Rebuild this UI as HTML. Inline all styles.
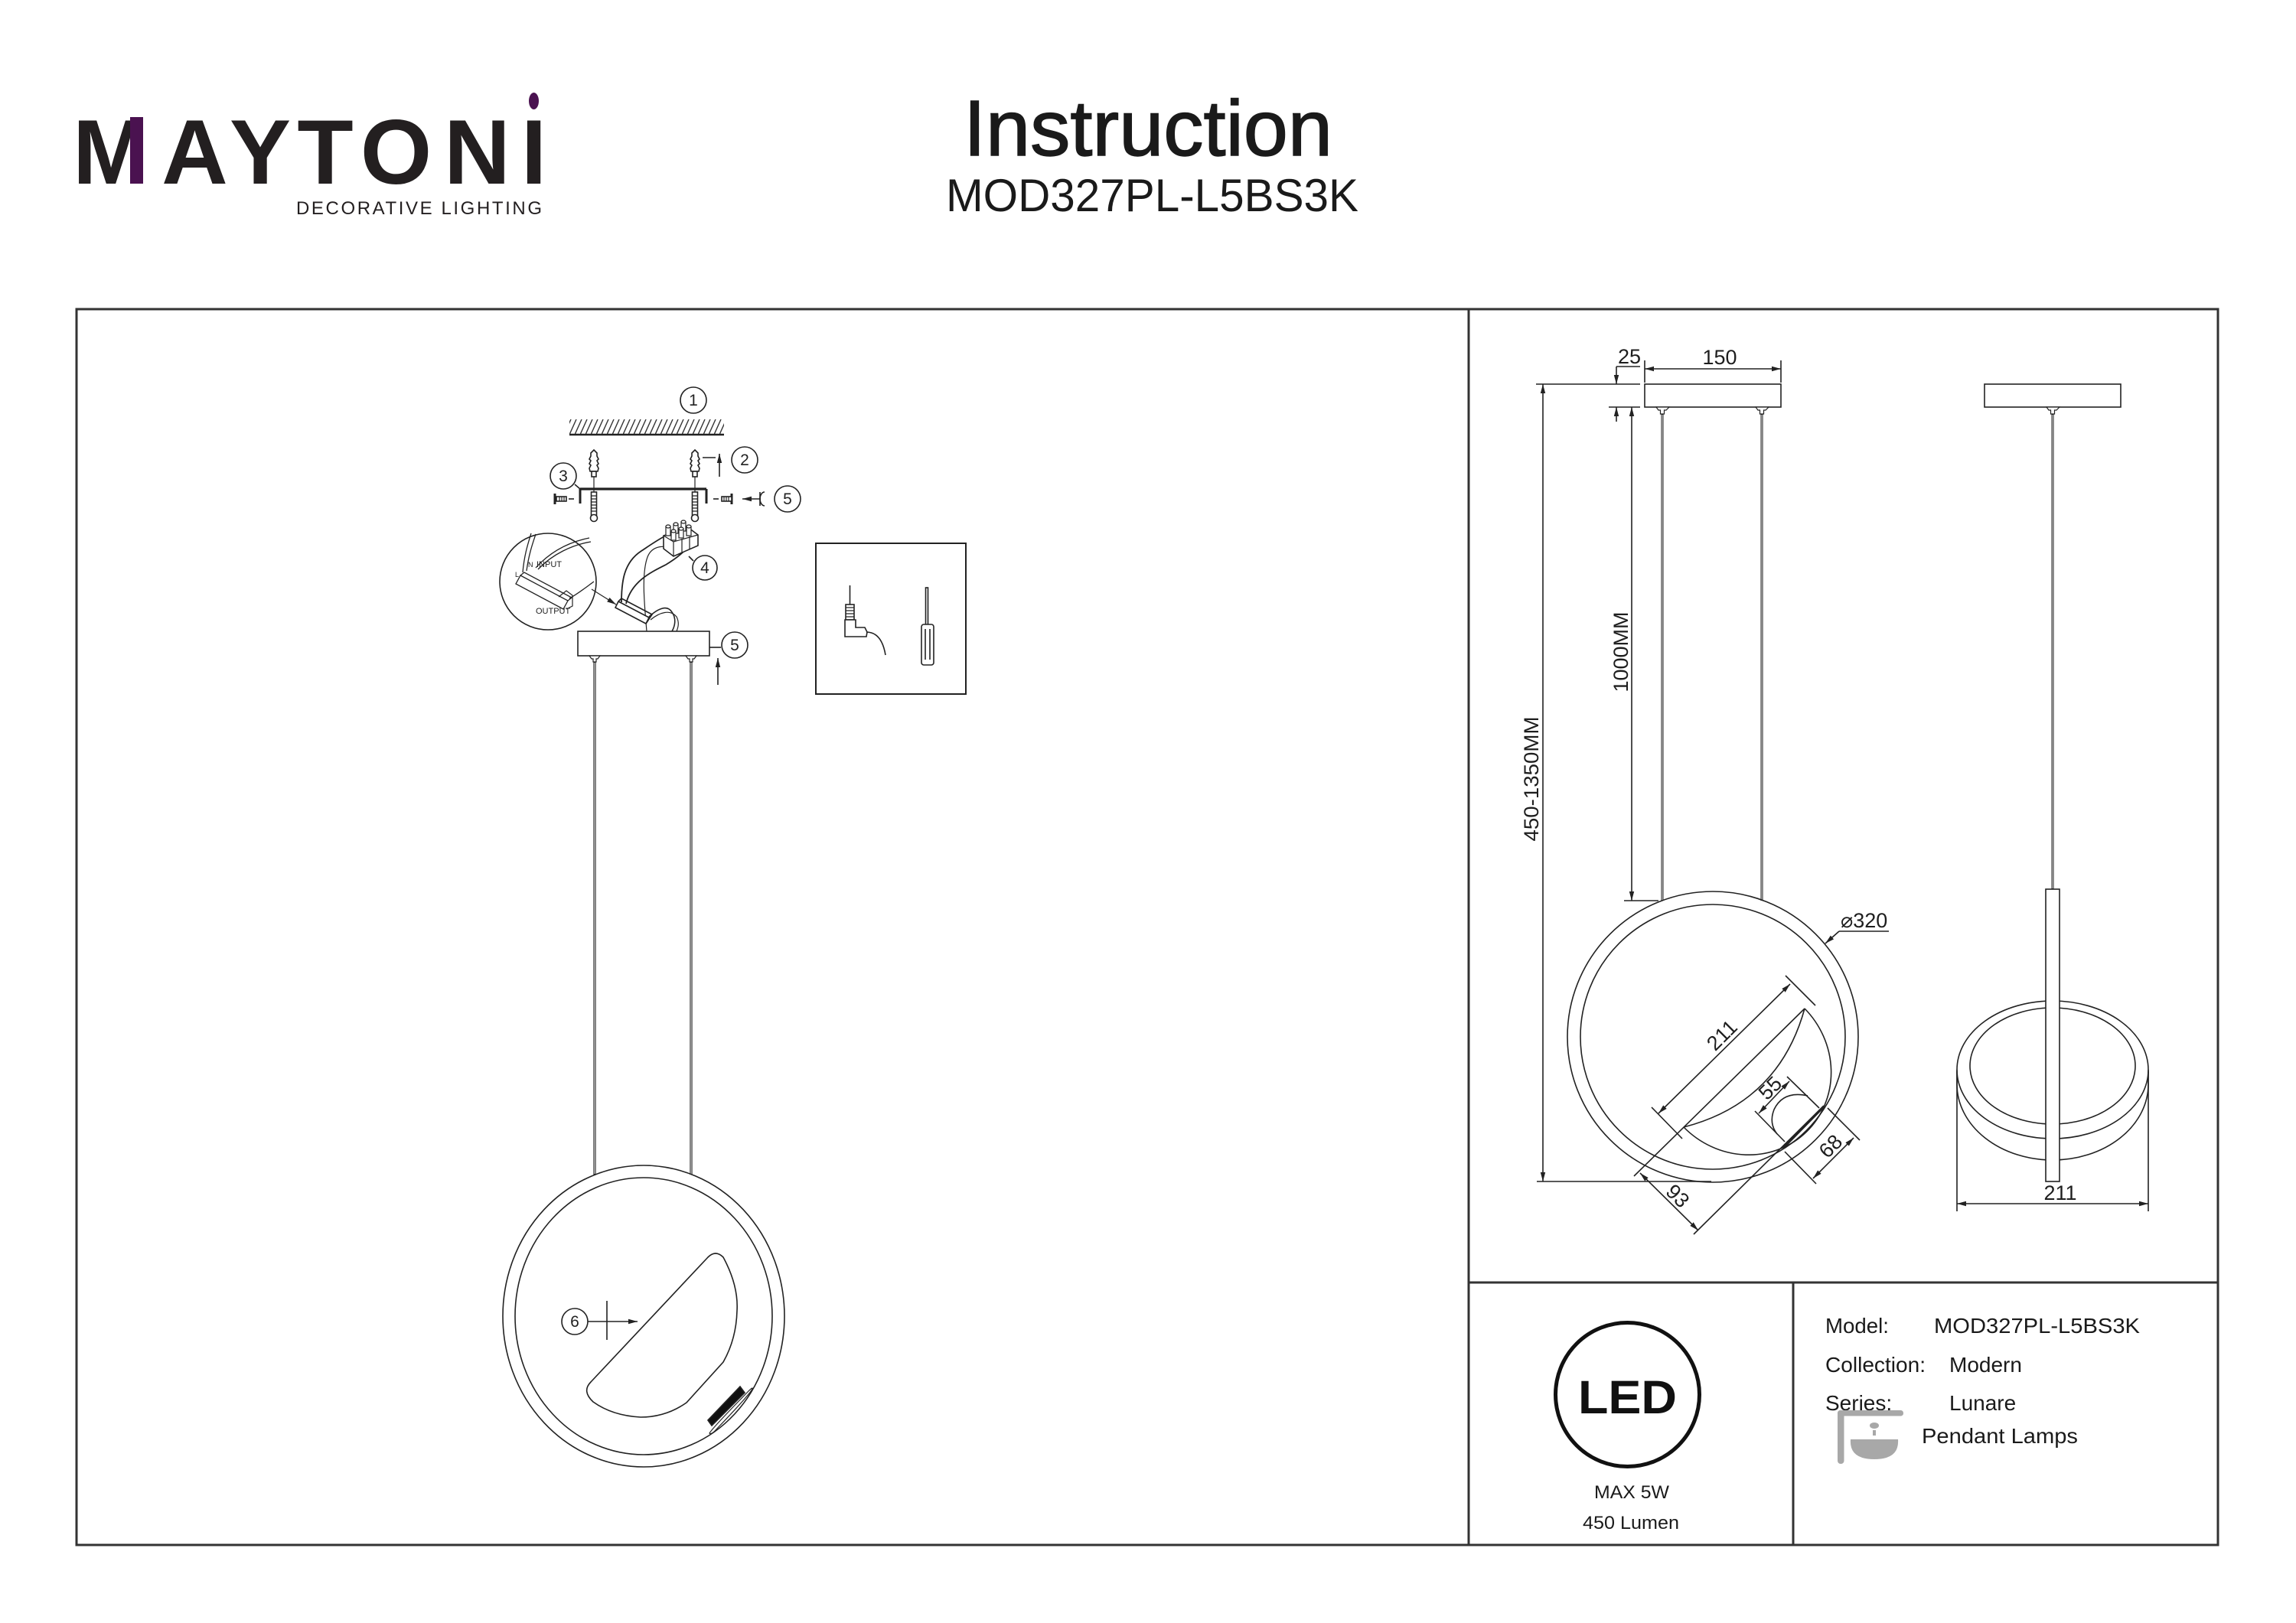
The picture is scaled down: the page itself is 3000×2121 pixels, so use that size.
<!DOCTYPE html>
<html>
<head>
<meta charset="utf-8">
<style>
  html,body{margin:0;padding:0;background:#fff;}
  svg{display:block;}
  text{font-family:"Liberation Sans","DejaVu Sans",sans-serif;}
</style>
</head>
<body>
<svg width="3000" height="2121" viewBox="0 0 3000 2121" xmlns="http://www.w3.org/2000/svg">
  <defs>
    <marker id="ar" viewBox="0 0 12 8" refX="12" refY="4" markerWidth="12" markerHeight="8" markerUnits="userSpaceOnUse" orient="auto-start-reverse">
      <path d="M0,0.8 L12,4 L0,7.2 Z" fill="#222"/>
    </marker>
    <pattern id="hatch" patternUnits="userSpaceOnUse" x="744" y="548" width="7" height="20">
      <line x1="0" y1="20" x2="9" y2="0" stroke="#333" stroke-width="1.4"/>
      <line x1="-7" y1="20" x2="2" y2="0" stroke="#333" stroke-width="1.4"/>
    </pattern>
  </defs>

  <rect width="3000" height="2121" fill="#fff"/>

  <!-- ============ HEADER ============ -->
  <g font-weight="bold" font-size="120" fill="#231f20" text-anchor="middle">
    <text x="145" y="240">M</text>
    <text x="254.5" y="240">A</text>
    <text x="340" y="240">Y</text>
    <text x="425" y="240">T</text>
    <text x="517.5" y="240">O</text>
    <text x="623.5" y="240">N</text>
    <text x="697.5" y="240">I</text>
  </g>
  <rect x="170" y="153" width="17" height="87" fill="#4a1250"/>
  <ellipse cx="697.5" cy="132" rx="6.5" ry="11" fill="#4a1250"/>
  <text x="387" y="280" font-size="24" fill="#231f20" textLength="321" lengthAdjust="spacing">DECORATIVE LIGHTING</text>

  <text x="1259" y="203" font-size="103" fill="#1a1a1a" stroke="#1a1a1a" stroke-width="1.5" textLength="482" lengthAdjust="spacingAndGlyphs">Instruction</text>
  <text x="1236" y="276" font-size="60" fill="#1a1a1a" textLength="539" lengthAdjust="spacingAndGlyphs">MOD327PL-L5BS3K</text>

  <!-- ============ FRAME ============ -->
  <g stroke="#333" stroke-width="3" fill="none">
    <rect x="100" y="404" width="2798" height="1615"/>
    <line x1="1919" y1="404" x2="1919" y2="2019"/>
    <line x1="1919" y1="1676" x2="2898" y2="1676"/>
    <line x1="2343" y1="1676" x2="2343" y2="2019"/>
  </g>

  <!-- ============ LEFT: ASSEMBLY ============ -->
  <g stroke="#222" stroke-width="1.6" fill="none">
    <!-- ceiling -->
    <rect x="744" y="548" width="202" height="20" fill="url(#hatch)" stroke="none"/>
    <line x1="744" y1="568" x2="946" y2="568" stroke-width="2.6"/>

    <!-- dowels -->
    <path d="M776,588 L780,592 L780,596 L782,600 L780,602 L782,606 L780,608 L782,612 L781,616 L771,616 L770,612 L772,608 L770,606 L772,602 L770,600 L772,596 L772,592 Z" fill="#fff"/>
    <rect x="773" y="616" width="6" height="7" fill="#fff"/>
    <path d="M908,588 L912,592 L912,596 L914,600 L912,602 L914,606 L912,608 L914,612 L913,616 L903,616 L902,612 L904,608 L902,606 L904,602 L902,600 L904,596 L904,592 Z" fill="#fff"/>
    <rect x="905" y="616" width="6" height="7" fill="#fff"/>
    <line x1="776" y1="623" x2="776" y2="643" stroke-width="1.2"/>
    <line x1="908" y1="623" x2="908" y2="643" stroke-width="1.2"/>

    <!-- bracket -->
    <line x1="758" y1="639" x2="923" y2="639" stroke-width="3.2"/>
    <line x1="758" y1="639" x2="758" y2="658" stroke-width="3"/>
    <line x1="923" y1="639" x2="923" y2="658" stroke-width="3"/>

    <!-- long screws -->
    <rect x="772.5" y="643" width="7" height="32" fill="#fff"/>
    <path d="M772.5,648 H779.5 M772.5,652 H779.5 M772.5,656 H779.5 M772.5,660 H779.5 M772.5,664 H779.5 M772.5,668 H779.5" stroke-width="1.2"/>
    <circle cx="776" cy="677" r="4.5" fill="#fff"/>
    <rect x="904.5" y="643" width="7" height="32" fill="#fff"/>
    <path d="M904.5,648 H911.5 M904.5,652 H911.5 M904.5,656 H911.5 M904.5,660 H911.5 M904.5,664 H911.5 M904.5,668 H911.5" stroke-width="1.2"/>
    <circle cx="908" cy="677" r="4.5" fill="#fff"/>

    <!-- side screws -->
    <line x1="725" y1="645" x2="725" y2="659" stroke-width="3"/>
    <rect x="727" y="649" width="13" height="6" fill="#fff"/>
    <path d="M731,649 V655 M734,649 V655 M737,649 V655" stroke-width="1.2"/>
    <line x1="743" y1="652" x2="750" y2="652"/>
    <line x1="956" y1="645" x2="956" y2="659" stroke-width="3"/>
    <rect x="943" y="649" width="13" height="6" fill="#fff"/>
    <path d="M946,649 V655 M949,649 V655 M952,649 V655" stroke-width="1.2"/>
    <line x1="932" y1="652" x2="939" y2="652"/>
    <line x1="994" y1="652" x2="970" y2="652" marker-end="url(#ar)"/>
    <path d="M999,643 A6,9 0 1,0 999,661"/>
    <line x1="993" y1="643" x2="993" y2="661"/>

    <!-- leaders 2 and 3 -->
    <line x1="918" y1="598" x2="935" y2="598"/>
    <line x1="940" y1="623" x2="940" y2="593" marker-end="url(#ar)"/>
    <line x1="751" y1="633" x2="758" y2="639"/>

    <!-- inset circle -->
    <circle cx="716" cy="760" r="63" fill="#fff"/>
    <path d="M683,748 C685,725 690,710 694,697" stroke-width="1.3"/>
    <path d="M688,746 C691,724 696,710 700,698" stroke-width="1.3"/>
    <path d="M700,742 C720,720 745,708 770,703" stroke-width="1.3"/>
    <path d="M703,744 C722,724 748,712 772,708" stroke-width="1.3"/>
    <path d="M744,782 C755,776 765,768 776,760" stroke-width="1.3"/>
    <path d="M680,752 L742,785 L736,796 L674,763 Z" fill="#fff" stroke-width="1.3"/>
    <path d="M680,752 L685,748 L747,781 L742,785" stroke-width="1.3"/>
    <path d="M730,780 L740,772 L748,778 L748,792 L740,796" stroke-width="1.2"/>
    <text x="701" y="741" font-size="11" fill="#222" stroke="none">INPUT</text>
    <text x="690" y="741" font-size="9" fill="#222" stroke="none">N</text>
    <text x="673" y="754" font-size="9" fill="#222" stroke="none">L</text>
    <text x="700" y="802" font-size="11" fill="#222" stroke="none">OUTPUT</text>
    <line x1="773" y1="770" x2="805" y2="790" stroke-width="1.2" marker-end="url(#ar)"/>

    <!-- wires -->
    <path d="M812,787 C812,760 815,735 838,720 C850,712 860,705 870,700" stroke-width="1.8"/>
    <path d="M818,789 C825,760 850,748 870,738 C880,732 888,726 894,720" stroke-width="1.8"/>
    <path d="M845,825 C842,790 838,750 846,728 C852,712 870,712 880,718" stroke-width="1.2"/>
    <path d="M848,806 C860,795 872,790 878,800 C884,808 882,818 878,825" stroke-width="1.6"/>
    <path d="M850,810 C862,800 876,796 884,806 C888,814 886,820 884,825" stroke-width="1.2"/>

    <!-- driver -->
    <path d="M808,786 L848,807 L844,815 L804,794 Z" fill="#fff"/>
    <path d="M808,786 L812,782 L852,803 L848,807"/>
    <path d="M844,815 L852,803"/>

    <!-- connector block -->
    <path d="M867,700 L900,690 L912,699 L912,713 L880,727 L867,717 Z" fill="#fff"/>
    <path d="M867,700 L880,708 L912,699 M880,708 L880,727 M891,704 L891,723 M901,701 L901,718" stroke-width="1.2"/>
    <g fill="#fff" stroke-width="1.2">
      <rect x="870" y="688" width="6" height="12"/><ellipse cx="873" cy="688" rx="3" ry="2"/>
      <rect x="880" y="685" width="6" height="12"/><ellipse cx="883" cy="685" rx="3" ry="2"/>
      <rect x="890" y="682" width="6" height="12"/><ellipse cx="893" cy="682" rx="3" ry="2"/>
      <rect x="877" y="694" width="6" height="12"/><ellipse cx="880" cy="694" rx="3" ry="2"/>
      <rect x="887" y="691" width="6" height="12"/><ellipse cx="890" cy="691" rx="3" ry="2"/>
      <rect x="897" y="688" width="6" height="12"/><ellipse cx="900" cy="688" rx="3" ry="2"/>
    </g>
    <line x1="900" y1="727" x2="906" y2="733"/>

    <!-- canopy -->
    <rect x="755" y="825" width="172" height="32" fill="#fff"/>
    <path d="M770,857 L784,857 L781,861 L779,861 L779,865 L775,865 L775,861 L773,861 Z" fill="#fff" stroke-width="1.2"/>
    <path d="M896,857 L910,857 L907,861 L905,861 L905,865 L901,865 L901,861 L899,861 Z" fill="#fff" stroke-width="1.2"/>
    <line x1="927" y1="846" x2="942" y2="846"/>
    <line x1="938" y1="895" x2="938" y2="860" marker-end="url(#ar)"/>

    <!-- suspension cables -->
    <line x1="777" y1="865" x2="777" y2="1535" stroke-width="3.2"/>
    <line x1="903" y1="865" x2="903" y2="1535" stroke-width="3.2"/>
    <line x1="777" y1="866" x2="777" y2="1534" stroke="#fff" stroke-width="1"/>
    <line x1="903" y1="866" x2="903" y2="1534" stroke="#fff" stroke-width="1"/>

    <!-- ring -->
    <ellipse cx="841" cy="1720" rx="184" ry="197"/>
    <ellipse cx="841" cy="1720" rx="168" ry="181"/>
    <path d="M772,1806 L925,1643 Q935,1633 945,1643 Q965,1680 963,1713 Q962,1750 945,1780 L897,1833 Q870,1852 837,1852 Q800,1850 775,1832 Q760,1818 772,1806 Z"/>
    <path d="M925,1856 L930,1863 L973,1820 L967,1812 Z" fill="#111"/>
    <path d="M927,1873 Q931,1866 978,1818 Q984,1812 983,1815 Q980,1822 934,1870 Q929,1875 927,1873 Z" stroke-width="1.2"/>
    <line x1="768" y1="1727" x2="833" y2="1727" marker-end="url(#ar)"/>
    <line x1="793" y1="1700" x2="793" y2="1751"/>
  </g>

  <!-- circled numbers -->
  <g stroke="#222" stroke-width="1.6" fill="#fff">
    <circle cx="906" cy="523" r="17"/>
    <circle cx="973" cy="601" r="17"/>
    <circle cx="736" cy="622" r="17"/>
    <circle cx="1029" cy="652" r="17"/>
    <circle cx="921" cy="742" r="16"/>
    <circle cx="960" cy="843" r="17"/>
    <circle cx="751" cy="1727" r="17"/>
  </g>
  <g font-size="21" fill="#222" text-anchor="middle">
    <text x="906" y="530">1</text>
    <text x="973" y="608">2</text>
    <text x="736" y="629">3</text>
    <text x="1029" y="659">5</text>
    <text x="921" y="749">4</text>
    <text x="960" y="850">5</text>
    <text x="751" y="1734">6</text>
  </g>

  <!-- tools box -->
  <g stroke="#222" stroke-width="1.6" fill="none">
    <rect x="1066" y="710" width="196" height="197" stroke-width="2"/>
    <line x1="1110.5" y1="765" x2="1110.5" y2="790"/>
    <rect x="1105" y="790" width="11" height="20" fill="#fff"/>
    <path d="M1105,794 H1116 M1105,798 H1116 M1105,802 H1116 M1105,806 H1116" stroke-width="1.2"/>
    <path d="M1104,810 L1118,810 L1118,820 L1130,820 L1133,826 L1132,832 L1104,832 Z" fill="#fff"/>
    <path d="M1132,826 Q1152,826 1157,856"/>
    <rect x="1209.5" y="768" width="3" height="49" fill="#fff"/>
    <rect x="1204" y="816" width="16" height="53" rx="3" fill="#fff"/>
    <line x1="1209" y1="822" x2="1209" y2="862"/>
    <line x1="1215" y1="822" x2="1215" y2="862"/>
  </g>

  <!-- ============ RIGHT: FRONT VIEW ============ -->
  <g stroke="#222" stroke-width="1.6" fill="none">
    <line x1="2007" y1="502" x2="2143" y2="502"/>
    <line x1="2102" y1="532" x2="2143" y2="532"/>
    <line x1="2112" y1="479" x2="2143" y2="479"/>
    <line x1="2112" y1="479" x2="2112" y2="502" marker-end="url(#ar)"/>
    <line x1="2112" y1="551" x2="2112" y2="532" marker-end="url(#ar)"/>
    <line x1="2149" y1="471" x2="2149" y2="500"/>
    <line x1="2327" y1="471" x2="2327" y2="500"/>
    <line x1="2149" y1="482" x2="2327" y2="482" marker-start="url(#ar)" marker-end="url(#ar)"/>
    <rect x="2149" y="502" width="178" height="30"/>
    <line x1="2016" y1="502" x2="2016" y2="1544" marker-start="url(#ar)" marker-end="url(#ar)"/>
    <line x1="2132" y1="532" x2="2132" y2="1177" marker-start="url(#ar)" marker-end="url(#ar)"/>
    <line x1="2122" y1="1177" x2="2167" y2="1177"/>
    <line x1="2008" y1="1544" x2="2236" y2="1544"/>

    <path d="M2164,532 L2181,532 L2177,536 L2174.5,536 L2174.5,541 L2169.5,541 L2169.5,536 L2167,536 Z" fill="#fff" stroke-width="1.2"/>
    <path d="M2294,532 L2311,532 L2307,536 L2304.5,536 L2304.5,541 L2299.5,541 L2299.5,536 L2297,536 Z" fill="#fff" stroke-width="1.2"/>
    <line x1="2172" y1="541" x2="2172" y2="1177" stroke-width="3"/>
    <line x1="2302" y1="541" x2="2302" y2="1177" stroke-width="3"/>
    <line x1="2172" y1="542" x2="2172" y2="1176" stroke="#fff" stroke-width="0.9"/>
    <line x1="2302" y1="542" x2="2302" y2="1176" stroke="#fff" stroke-width="0.9"/>

    <circle cx="2238" cy="1355" r="190"/>
    <circle cx="2238" cy="1355" r="173"/>

    <!-- crescent -->
    <path d="M2358,1318 A110,116 -44.5 0,1 2200,1473"/>
    <path d="M2358,1318 Q2324,1441 2200,1473"/>
    <line x1="2135" y1="1537" x2="2358" y2="1318"/>
    <path d="M2362,1432 Q2330,1425 2318,1450 Q2311,1468 2322,1482"/>
    <line x1="2330" y1="1500" x2="2383" y2="1446" stroke-width="3.2"/>
    <line x1="2213" y1="1613" x2="2383" y2="1445"/>

    <!-- 211 -->
    <line x1="2158" y1="1447" x2="2198" y2="1488"/>
    <line x1="2333" y1="1275" x2="2372" y2="1314"/>
    <line x1="2167" y1="1455" x2="2339" y2="1286" marker-start="url(#ar)" marker-end="url(#ar)"/>
    <!-- 55 -->
    <line x1="2335" y1="1407" x2="2377" y2="1448"/>
    <line x1="2293" y1="1452" x2="2332" y2="1492"/>
    <line x1="2298" y1="1455" x2="2338" y2="1413" marker-start="url(#ar)" marker-end="url(#ar)"/>
    <!-- 68 -->
    <line x1="2388" y1="1448" x2="2430" y2="1490"/>
    <line x1="2332" y1="1505" x2="2373" y2="1547"/>
    <line x1="2369" y1="1540" x2="2422" y2="1487" marker-start="url(#ar)" marker-end="url(#ar)"/>
    <!-- 93 -->
    <line x1="2143" y1="1533" x2="2219" y2="1608" marker-start="url(#ar)" marker-end="url(#ar)"/>

    <!-- diameter leader -->
    <line x1="2468" y1="1217" x2="2403" y2="1217"/>
    <line x1="2403" y1="1217" x2="2385" y2="1233" marker-end="url(#ar)"/>
  </g>
  <g font-size="27" fill="#1e1e1e" text-anchor="middle">
    <text x="2129" y="475">25</text>
    <text x="2247" y="476">150</text>
    <text transform="translate(2127,852) rotate(-90)" textLength="105" lengthAdjust="spacingAndGlyphs">1000MM</text>
    <text transform="translate(2010,1018) rotate(-90)" textLength="163" lengthAdjust="spacingAndGlyphs">450-1350MM</text>
    <text transform="translate(2250,1353) rotate(-45)" dy="9">211</text>
    <text transform="translate(2313,1422) rotate(-45)" dy="9">55</text>
    <text transform="translate(2392,1498) rotate(-45)" dy="9">68</text>
    <text transform="translate(2192,1563) rotate(45)" dy="9">93</text>
  </g>
  <text x="2405" y="1212" font-size="27" fill="#1e1e1e">⌀320</text>

  <!-- ============ RIGHT: SIDE VIEW ============ -->
  <g stroke="#222" stroke-width="1.6" fill="none">
    <rect x="2593" y="502" width="178" height="30"/>
    <path d="M2674,532 L2691,532 L2687,536 L2684.5,536 L2684.5,541 L2679.5,541 L2679.5,536 L2677,536 Z" fill="#fff" stroke-width="1.2"/>
    <line x1="2682" y1="541" x2="2682" y2="1162" stroke-width="3"/>
    <line x1="2682" y1="542" x2="2682" y2="1161" stroke="#fff" stroke-width="0.9"/>
    <path d="M2557,1398 L2557,1417 A125,99 0 0,0 2807,1417 L2807,1398"/>
    <ellipse cx="2682" cy="1398" rx="125" ry="90"/>
    <ellipse cx="2682" cy="1393" rx="108" ry="76"/>
    <rect x="2673" y="1162" width="18" height="382" fill="#fff"/>
    <line x1="2557" y1="1400" x2="2557" y2="1583"/>
    <line x1="2807" y1="1400" x2="2807" y2="1583"/>
    <line x1="2557" y1="1573" x2="2807" y2="1573" marker-start="url(#ar)" marker-end="url(#ar)"/>
  </g>
  <text x="2692" y="1568" font-size="27" fill="#1e1e1e" text-anchor="middle">211</text>

  <!-- ============ TABLE ============ -->
  <circle cx="2126.5" cy="1822.5" r="94" fill="none" stroke="#111" stroke-width="5"/>
  <text x="2062" y="1847" font-size="61" font-weight="bold" fill="#111" textLength="129" lengthAdjust="spacingAndGlyphs">LED</text>
  <text x="2132" y="1958" font-size="24" fill="#1a1a1a" text-anchor="middle" textLength="98" lengthAdjust="spacingAndGlyphs">MAX 5W</text>
  <text x="2131" y="1998" font-size="24" fill="#1a1a1a" text-anchor="middle" textLength="126" lengthAdjust="spacingAndGlyphs">450 Lumen</text>

  <g font-size="28" fill="#1a1a1a">
    <text x="2385" y="1742" textLength="83" lengthAdjust="spacingAndGlyphs">Model:</text>
    <text x="2527" y="1742" textLength="269" lengthAdjust="spacingAndGlyphs">MOD327PL-L5BS3K</text>
    <text x="2385" y="1793" textLength="131" lengthAdjust="spacingAndGlyphs">Collection:</text>
    <text x="2547" y="1793">Modern</text>
    <text x="2385" y="1843">Series:</text>
    <text x="2547" y="1843">Lunare</text>
    <text x="2511" y="1886" textLength="204" lengthAdjust="spacingAndGlyphs">Pendant Lamps</text>
  </g>
  <!-- pendant icon -->
  <g fill="#a8a8a8">
    <rect x="2401" y="1843" width="8.5" height="70" rx="4"/>
    <rect x="2401" y="1843" width="86" height="7.5" rx="3.5"/>
    <ellipse cx="2449" cy="1863" rx="6" ry="4"/>
    <rect x="2447" y="1869" width="4" height="7"/>
    <path d="M2418,1881 L2480,1881 Q2482,1907 2449,1907 Q2416,1907 2418,1881 Z"/>
  </g>
</svg>
</body>
</html>
